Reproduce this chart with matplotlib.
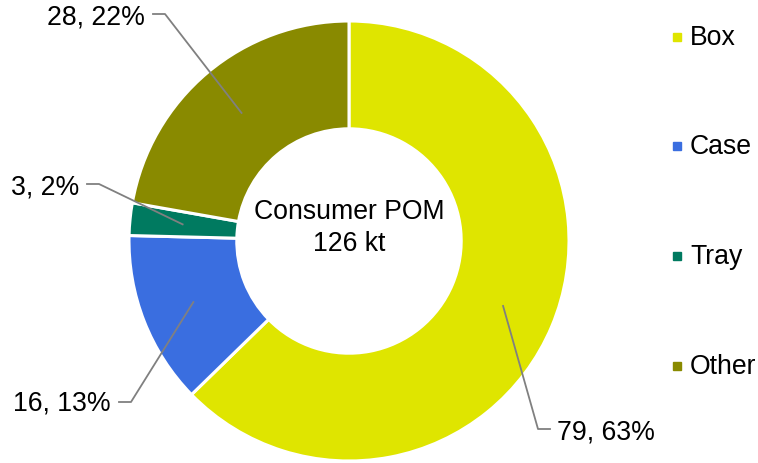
import matplotlib
matplotlib.use('Agg')
import matplotlib.pyplot as plt
import numpy as np

plt.rcParams['font.family'] = ['Liberation Sans', 'DejaVu Sans']

categories = ['Box', 'Case', 'Tray', 'Other']
values = [79, 16, 3, 28]
colors = ['#DFE500', '#3A6EE0', '#007A60', '#898A00']
center_title = 'Consumer POM'
center_total = '126 kt'

W, H = 758, 464
fig = plt.figure(figsize=(W / 100, H / 100), dpi=100)
ax = fig.add_axes([0, 0, 1, 1])

cx, cy, R = 349, H - 242, 220
wedges, _ = ax.pie(values, colors=colors, startangle=90, counterclock=False,
                   radius=R, center=(cx, cy), frame=True,
                   wedgeprops=dict(width=R * 0.49, edgecolor='white', linewidth=2.2))
ax.set_xlim(0, W)
ax.set_ylim(0, H)
ax.axis('off')

total = sum(values)
# label layout (pixel coords, y down): elbow point, text anchor, alignment
elbows = [(538, 430), (131, 403), (99, 185), (165, 15)]
text_pos = [(557, 433), (111, 404), (79, 187), (145, 17)]
aligns = ['left', 'right', 'right', 'right']

for w, v, el, tp, ha in zip(wedges, values, elbows, text_pos, aligns):
    mid = np.deg2rad((w.theta1 + w.theta2) / 2)
    sx = cx + 0.76 * R * np.cos(mid)
    sy = cy + 0.76 * R * np.sin(mid)
    ex, ey = el[0], H - el[1]
    hx = ex + (12 if ha == 'left' else -12)
    ax.plot([sx, ex, hx], [sy, ey, ey], color='#808080', lw=1.3, zorder=3)
    pct = round(v / total * 100)
    ax.text(tp[0], H - tp[1], f'{v}, {pct}%', ha=ha, va='center', fontsize=19.2)

ax.text(cx, H - 228, center_title + '\n' + center_total, ha='center', va='center',
        fontsize=19.2, linespacing=1.3)

# legend
leg_y = [38, 147, 257, 367]
for c, lab, y in zip(colors, categories, leg_y):
    ax.plot([677], [H - y], marker='s', markersize=6, color=c, linestyle='none')
    ax.text(690, H - y, lab, ha='left', va='center', fontsize=19.2)

fig.savefig('out.png', dpi=100)
